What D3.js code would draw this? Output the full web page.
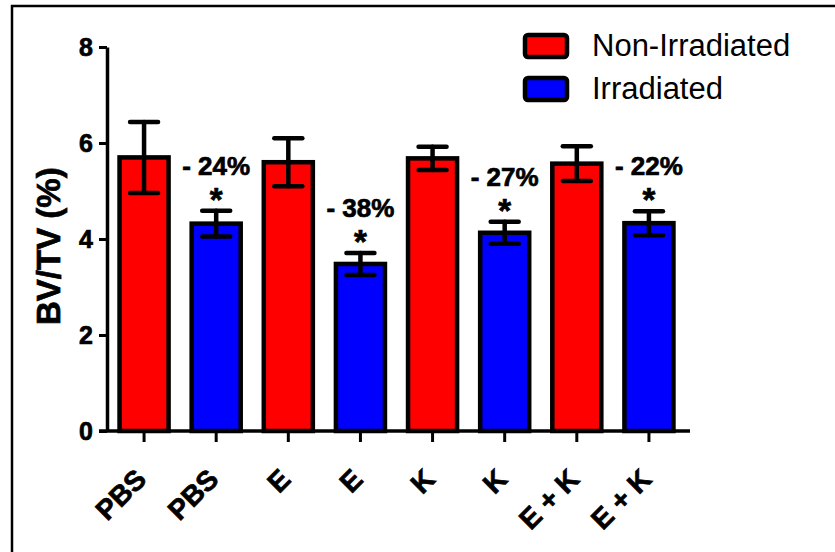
<!DOCTYPE html>
<html>
<head>
<meta charset="utf-8">
<script src="https://cdn.jsdelivr.net/npm/d3@7"></script>
<style>
  body { margin: 0; background: #fff; }
  svg { display: block; font-family: 'Liberation Sans', Arial, sans-serif; }
  .heavy { stroke: #000; stroke-width: 0.7px; }
</style>
</head>
<body>
<div id="chart"></div>
<script>
'use strict';

// groups along the x axis (each one appears twice: non-irradiated / irradiated)
const groups = ['PBS', 'PBS', 'E', 'E', 'K', 'K', 'E + K', 'E + K'];
const conditions = ['Non-Irradiated', 'Irradiated', 'Non-Irradiated', 'Irradiated',
  'Non-Irradiated', 'Irradiated', 'Non-Irradiated', 'Irradiated'];
const means = [5.70, 4.32, 5.60, 3.48, 5.68, 4.13, 5.57, 4.33];
const sems = [0.74, 0.27, 0.50, 0.23, 0.24, 0.23, 0.36, 0.25];
const changeLabels = [null, '- 24%', null, '- 38%', null, '- 27%', null, '- 22%'];
const yTicks = [0, 2, 4, 6, 8];
const legendItems = ['Non-Irradiated', 'Irradiated'];

const width = 835;
const height = 552;

const color = d3.scaleOrdinal(legendItems, ['#ff0000', '#0000ff']);

const svg = d3.select('#chart')
  .append('svg')
  .attr('width', width)
  .attr('height', height);

// outer frame
svg.append('rect')
  .attr('x', 12)
  .attr('y', 6)
  .attr('width', 900)
  .attr('height', 700)
  .attr('fill', 'none')
  .attr('stroke', '#000')
  .attr('stroke-width', 2.5);

const x = d3.scaleBand()
  .domain(d3.range(groups.length))
  .range([108, 685])
  .paddingInner(0.32)
  .paddingOuter(0.16);

const y = d3.scaleLinear()
  .domain([0, 8])
  .range([431, 47]);

// bars
svg.selectAll('.bar')
  .data(means)
  .join('rect')
  .attr('class', 'bar')
  .attr('x', (d, i) => x(i))
  .attr('y', (d) => y(d))
  .attr('width', x.bandwidth())
  .attr('height', (d) => y(0) - y(d))
  .attr('fill', (d, i) => color(conditions[i]))
  .attr('stroke', '#000')
  .attr('stroke-width', 4.5);

// error bars
const cx = (i) => x(i) + x.bandwidth() / 2;
const capHalf = 14;
const err = svg.append('g')
  .attr('stroke', '#000')
  .attr('stroke-width', 4.5)
  .attr('stroke-linecap', 'round');

err.selectAll('.stem')
  .data(means)
  .join('line')
  .attr('x1', (d, i) => cx(i))
  .attr('x2', (d, i) => cx(i))
  .attr('y1', (d, i) => y(d + sems[i]))
  .attr('y2', (d, i) => y(d - sems[i]));

err.selectAll('.cap-top')
  .data(means)
  .join('line')
  .attr('x1', (d, i) => cx(i) - capHalf)
  .attr('x2', (d, i) => cx(i) + capHalf)
  .attr('y1', (d, i) => y(d + sems[i]))
  .attr('y2', (d, i) => y(d + sems[i]));

err.selectAll('.cap-bottom')
  .data(means)
  .join('line')
  .attr('x1', (d, i) => cx(i) - capHalf)
  .attr('x2', (d, i) => cx(i) + capHalf)
  .attr('y1', (d, i) => y(d - sems[i]))
  .attr('y2', (d, i) => y(d - sems[i]));

// percent change + significance star
const notes = svg.selectAll('.note')
  .data(d3.range(groups.length).filter((i) => changeLabels[i]))
  .join('g')
  .attr('class', 'note')
  .attr('transform', (i) => `translate(${cx(i)}, ${y(means[i] + sems[i])})`);

notes.append('text')
  .attr('class', 'heavy')
  .attr('y', -36)
  .attr('text-anchor', 'middle')
  .attr('font-size', '26px')
  .attr('font-weight', 'bold')
  .text((i) => changeLabels[i]);

notes.append('text')
  .attr('class', 'heavy')
  .attr('y', 0)
  .attr('text-anchor', 'middle')
  .attr('font-size', '33px')
  .attr('font-weight', 'bold')
  .text('*');

// y axis
const yAxis = svg.append('g')
  .attr('transform', 'translate(107, 0)')
  .call(d3.axisLeft(y).tickValues(yTicks).tickSize(8).tickPadding(6).tickSizeOuter(0));

yAxis.select('.domain').attr('stroke-width', 3.5);
yAxis.selectAll('.tick line').attr('stroke-width', 3);
yAxis.selectAll('.tick text')
  .attr('class', 'heavy')
  .attr('font-size', '25px')
  .attr('font-weight', 'bold')
  .attr('font-family', "'Liberation Sans', Arial, sans-serif")
  .attr('fill', '#000');

// x axis
const xAxis = svg.append('g')
  .attr('transform', `translate(0, ${y(0)})`)
  .call(d3.axisBottom(x).tickSize(11).tickSizeOuter(0).tickFormat((i) => groups[i]));

xAxis.select('.domain').remove();
xAxis.append('line')
  .attr('x1', 99)
  .attr('x2', 690)
  .attr('stroke', '#000')
  .attr('stroke-width', 3.5);
xAxis.selectAll('.tick line').attr('stroke-width', 3);
xAxis.selectAll('.tick text')
  .attr('class', 'heavy')
  .attr('font-size', '28px')
  .attr('font-weight', 'bold')
  .attr('font-family', "'Liberation Sans', Arial, sans-serif")
  .attr('fill', '#000')
  .attr('text-anchor', 'end')
  .attr('dy', null)
  .attr('y', null)
  .attr('transform', 'translate(4, 50) rotate(-45)');

// y title
svg.append('text')
  .attr('class', 'heavy')
  .attr('transform', `translate(60, ${y(3.85)}) rotate(-90)`)
  .attr('text-anchor', 'middle')
  .attr('font-size', '33px')
  .attr('font-weight', 'bold')
  .text('BV/TV (%)');

// legend
const legend = svg.selectAll('.legend')
  .data(legendItems)
  .join('g')
  .attr('class', 'legend')
  .attr('transform', (d, i) => `translate(525, ${35 + i * 43})`);

legend.append('rect')
  .attr('width', 42)
  .attr('height', 22)
  .attr('rx', 3)
  .attr('fill', color)
  .attr('stroke', '#000')
  .attr('stroke-width', 4.5);

legend.append('text')
  .attr('x', 67)
  .attr('y', 21)
  .attr('font-size', '31px')
  .text((d) => d);
</script>
</body>
</html>
